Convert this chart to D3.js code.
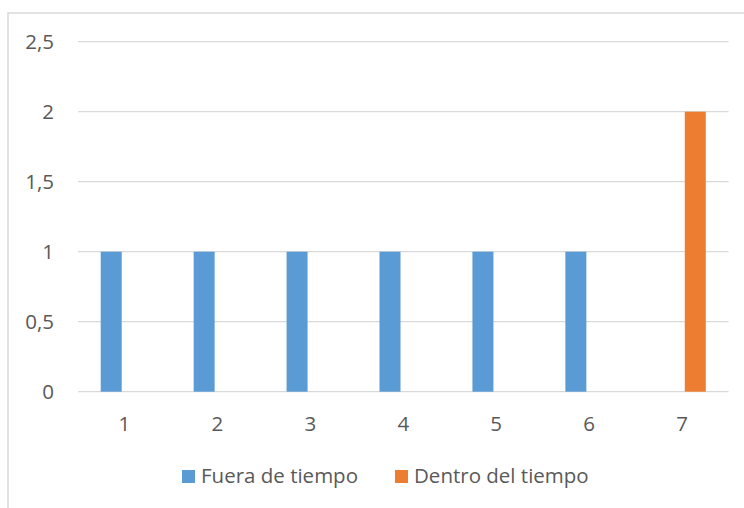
<!DOCTYPE html>
<html>
<head>
<meta charset="utf-8">
<script src="https://cdn.jsdelivr.net/npm/d3@7"></script>
<style>
  body { margin: 0; background: #fff; }
  text { font-family: "Open Sans", Lato, sans-serif; fill: #595959; }
</style>
</head>
<body>
<div id="chartDiv"></div>
<script>
var categories = ["1", "2", "3", "4", "5", "6", "7"];
var seriesNames = ["Fuera de tiempo", "Dentro del tiempo"];
var fueraValues = [1, 1, 1, 1, 1, 1, 0];
var dentroValues = [0, 0, 0, 0, 0, 0, 2];
var yTicks = [0, 0.5, 1, 1.5, 2, 2.5];
var colors = ["#5B9BD5", "#ED7D31"];

var width = 744, height = 508;
var plot = {left: 78, right: 728.5, top: 41.7, bottom: 391.7};
var fontSize = "20.5px";

var svg = d3.select("#chartDiv").append("svg")
	.attr("width", width)
	.attr("height", height);

// chart border (only top and left fall inside the picture)
svg.append("rect")
	.attr("x", 8).attr("y", 13)
	.attr("width", 800).attr("height", 600)
	.attr("fill", "none")
	.attr("stroke", "#d9d9d9")
	.attr("stroke-width", 1.5);

var x = d3.scaleBand().domain(categories).range([plot.left, plot.right]).padding(0);
var xInner = d3.scaleBand().domain(seriesNames).range([0, x.bandwidth()])
	.paddingInner(0.2075).paddingOuter(0.857);
var y = d3.scaleLinear().domain([0, 2.5]).range([plot.bottom, plot.top]);

var fmt = function(v) { return String(v).replace(".", ","); };

// gridlines
svg.append("g").selectAll("line")
	.data(yTicks)
	.enter().append("line")
	.attr("x1", plot.left).attr("x2", plot.right)
	.attr("y1", function(d) { return y(d); })
	.attr("y2", function(d) { return y(d); })
	.attr("stroke", "#d9d9d9")
	.attr("stroke-width", 1.3);

// y axis labels
var yAxis = d3.axisLeft(y).tickValues(yTicks).tickFormat(fmt).tickSize(0).tickPadding(24);
var gy = svg.append("g").attr("transform", "translate(" + plot.left + ",0)").call(yAxis);
gy.select(".domain").remove();
gy.selectAll("text").style("font-size", fontSize).attr("fill", "#595959").style("font-family", null);

// x axis labels
var xAxis = d3.axisBottom(x).tickSize(0).tickPadding(24.5);
var gx = svg.append("g").attr("transform", "translate(0," + plot.bottom + ")").call(xAxis);
gx.select(".domain").remove();
gx.selectAll("text").style("font-size", fontSize).attr("fill", "#595959").style("font-family", null);

// bars
var rows = categories.map(function(c, i) {
	return {cat: c, values: [fueraValues[i], dentroValues[i]]};
});
var groups = svg.append("g").selectAll("g")
	.data(rows)
	.enter().append("g")
	.attr("transform", function(d) { return "translate(" + x(d.cat) + ",0)"; });
groups.selectAll("rect")
	.data(function(d) { return d.values.map(function(v, j) { return {name: seriesNames[j], value: v, j: j}; }); })
	.enter().filter(function(d) { return d.value > 0; }).append("rect")
	.attr("x", function(d) { return xInner(d.name); })
	.attr("width", xInner.bandwidth())
	.attr("y", function(d) { return y(d.value); })
	.attr("height", function(d) { return y(0) - y(d.value); })
	.attr("fill", function(d) { return colors[d.j]; });

// legend
var legendX = [182, 395];
var legend = svg.append("g").selectAll("g")
	.data(seriesNames)
	.enter().append("g")
	.attr("transform", function(d, i) { return "translate(" + legendX[i] + ",470)"; });
legend.append("rect")
	.attr("width", 13).attr("height", 13)
	.attr("fill", function(d, i) { return colors[i]; });
legend.append("text")
	.attr("x", 19).attr("y", 13)
	.style("font-size", fontSize)
	.text(function(d) { return d; });
</script>
</body>
</html>
